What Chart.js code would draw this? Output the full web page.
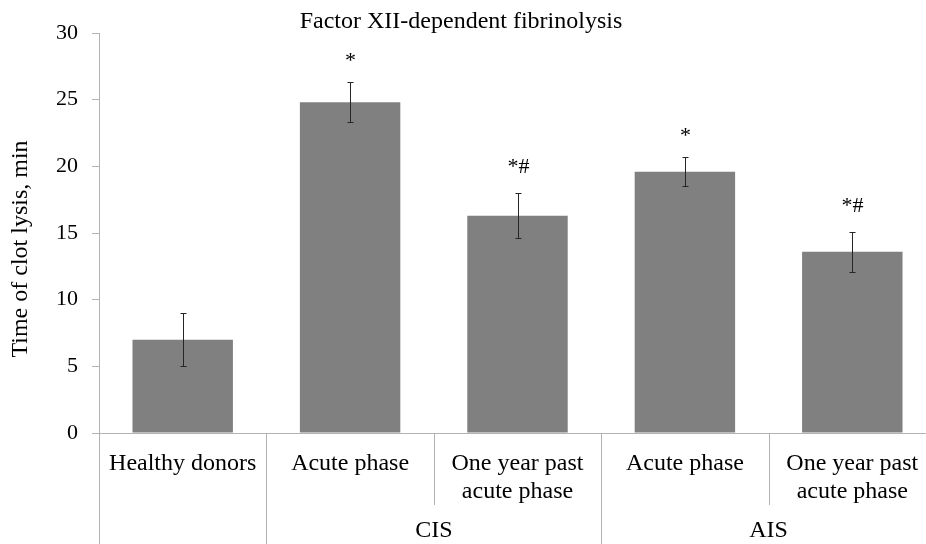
<!DOCTYPE html>
<html>
<head>
<meta charset="utf-8">
<script src="https://cdn.jsdelivr.net/npm/chart.js@4"></script>
<style>
  body { margin: 0; overflow: hidden; background: #fff; }
  #wrap { width: 940px; height: 544px; }
</style>
</head>
<body>
<div id="wrap"><canvas id="lysisChart" width="940" height="544"></canvas></div>
<script>
// ------------------------------
// Data
// ------------------------------

const categories = [
    ["Healthy donors"],
    ["Acute phase"],
    ["One year past", "acute phase"],
    ["Acute phase"],
    ["One year past", "acute phase"]
];

const groups = ["", "CIS", "CIS", "AIS", "AIS"];

const lysisTime = [7.0, 24.8, 16.3, 19.6, 13.6];

const lysisError = [2.0, 1.5, 1.7, 1.1, 1.5];

const marks = ["", "*", "*#", "*", "*#"];

const yTicks = [0, 5, 10, 15, 20, 25, 30];

const serif = "'Liberation Serif', 'Times New Roman', serif";


// ------------------------------
// Error bars, marks, titles, group labels
// ------------------------------

const extras = {

    id: "extras",

    afterDatasetsDraw(chart) {

        const ctx = chart.ctx;
        const x = chart.scales.x;
        const y = chart.scales.y;
        const area = chart.chartArea;

        ctx.save();

        // error bars
        ctx.strokeStyle = "#262626";
        ctx.lineWidth = 1;

        lysisTime.forEach((v, i) => {

            const cx = Math.round(x.getPixelForValue(i)) + 0.5;
            const top = Math.round(y.getPixelForValue(v + lysisError[i])) + 0.5;
            const bot = Math.round(y.getPixelForValue(v - lysisError[i])) + 0.5;

            ctx.beginPath();
            ctx.moveTo(cx, top); ctx.lineTo(cx, bot);
            ctx.moveTo(cx - 3, top); ctx.lineTo(cx + 3, top);
            ctx.moveTo(cx - 3, bot); ctx.lineTo(cx + 3, bot);
            ctx.stroke();

            // significance marks
            if (marks[i]) {
                ctx.fillStyle = "#000";
                ctx.font = "22px " + serif;
                ctx.textAlign = "center";
                ctx.textBaseline = "alphabetic";
                ctx.fillText(marks[i], cx, top - (marks[i].length > 1 ? 21 : 16));
            }

        });

        // category dividers
        ctx.strokeStyle = "#b3b3b3";
        const half = (x.getPixelForValue(1) - x.getPixelForValue(0)) / 2;

        for (let i = 0; i < categories.length; i++) {

            const bx = Math.round(x.getPixelForValue(i) - half) + 0.5;
            const newGroup = i === 0 || groups[i] !== groups[i - 1];

            ctx.beginPath();
            ctx.moveTo(bx, area.bottom);
            ctx.lineTo(bx, newGroup ? chart.height : area.bottom + 72);
            ctx.stroke();

        }

        // group labels
        ctx.fillStyle = "#000";
        ctx.font = "24px " + serif;
        ctx.textAlign = "center";
        ctx.textBaseline = "middle";

        const seen = {};
        groups.forEach((g, i) => {
            if (!g) return;
            (seen[g] = seen[g] || []).push(x.getPixelForValue(i));
        });

        Object.keys(seen).forEach(g => {
            const xs = seen[g];
            ctx.fillText(g, (xs[0] + xs[xs.length - 1]) / 2, area.bottom + 98);
        });

        // chart title
        ctx.font = "24px " + serif;
        ctx.fillText("Factor XII-dependent fibrinolysis", 461, 22);

        // y axis title
        ctx.translate(21, 249);
        ctx.rotate(-Math.PI / 2);
        ctx.fillText("Time of clot lysis, min", 0, 0);

        ctx.restore();

    }

};


// ------------------------------
// Chart
// ------------------------------

const lysisChart = new Chart(document.getElementById("lysisChart"), {

    type: "bar",

    data: {

        labels: categories,

        datasets: [{

            data: lysisTime,

            backgroundColor: "#808080",

            barPercentage: 0.6,

            categoryPercentage: 1.0

        }]

    },

    options: {

        responsive: false,

        animation: false,

        layout: {

            padding: { top: 33, right: 4, left: 0, bottom: 0 }

        },

        plugins: {

            legend: { display: false },

            tooltip: { enabled: false }

        },

        scales: {

            x: {

                grid: { display: false },

                border: { color: "#b3b3b3" },

                ticks: {

                    color: "#000",

                    padding: 9,

                    maxRotation: 0,

                    font: { family: serif, size: 24, lineHeight: 1.17 }

                },

                afterFit(scale) { scale.height = 111; }

            },

            y: {

                min: 0,

                max: 30,

                afterBuildTicks(scale) {
                    scale.ticks = yTicks.map(v => ({ value: v }));
                },

                grid: {

                    drawOnChartArea: false,

                    tickLength: 7,

                    color: "#b3b3b3"

                },

                border: { color: "#b3b3b3" },

                ticks: {

                    color: "#000",

                    padding: 14,

                    font: { family: serif, size: 22 }

                },

                afterFit(scale) { scale.width = 99; }

            }

        }

    },

    plugins: [extras]

});
</script>
</body>
</html>
